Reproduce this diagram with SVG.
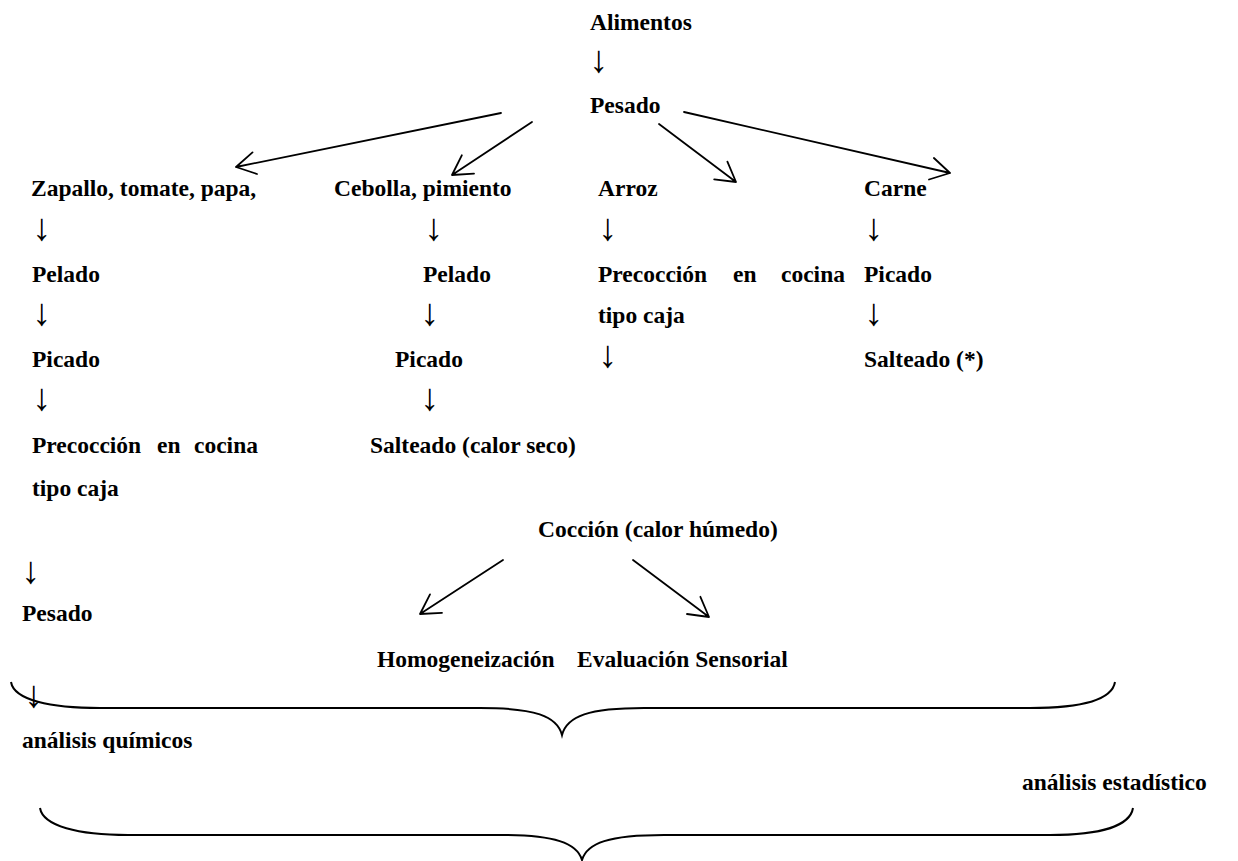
<svg xmlns="http://www.w3.org/2000/svg" width="1238" height="861" viewBox="0 0 1238 861">
<style>
text{font-family:"Liberation Serif","Times New Roman",serif;font-weight:bold;font-size:23.5px;fill:#000}
text.ar{font-family:"Liberation Sans",Arial,sans-serif;font-weight:bold;font-size:38px}
.c{fill:none;stroke:#000;stroke-width:1.8;stroke-linecap:round;stroke-linejoin:round}
.b{fill:none;stroke:#000;stroke-width:2}
</style>
<rect width="1238" height="861" fill="#fff"/>
<g id="n-alimentos"><text x="590" y="30">Alimentos</text></g>
<g id="a-top"><text class="ar" x="589" y="72">↓</text></g>
<g id="n-pesado"><text x="590" y="113">Pesado</text></g>

<g id="col1">
<text x="31" y="196">Zapallo, tomate, papa,</text>
<text class="ar" x="32" y="240">↓</text>
<text x="32" y="282">Pelado</text>
<text class="ar" x="32" y="325">↓</text>
<text x="32" y="367">Picado</text>
<text class="ar" x="32" y="410">↓</text>
<text y="453"><tspan x="32">Precocción</tspan><tspan x="157">en</tspan><tspan x="194">cocina</tspan></text>
<text x="32" y="496">tipo caja</text>
</g>
<g id="col2">
<text x="334" y="196">Cebolla, pimiento</text>
<text class="ar" x="424" y="240">↓</text>
<text x="423" y="282">Pelado</text>
<text class="ar" x="420" y="325">↓</text>
<text x="395" y="367">Picado</text>
<text class="ar" x="420" y="410">↓</text>
<text x="370" y="453">Salteado (calor seco)</text>
</g>
<g id="col3">
<text x="598" y="196">Arroz</text>
<text class="ar" x="598" y="240">↓</text>
<text y="282"><tspan x="598">Precocción</tspan><tspan x="733">en</tspan><tspan x="781">cocina</tspan></text>
<text x="598" y="323">tipo caja</text>
<text class="ar" x="598" y="367">↓</text>
</g>
<g id="col4">
<text x="864" y="196">Carne</text>
<text class="ar" x="864" y="240">↓</text>
<text x="864" y="282">Picado</text>
<text class="ar" x="864" y="325">↓</text>
<text x="864" y="367">Salteado (*)</text>
</g>
<g id="n-coccion"><text x="538" y="537">Cocción (calor húmedo)</text></g>
<g id="n-pesado2"><text class="ar" x="21" y="583">↓</text><text x="22" y="621">Pesado</text></g>
<g id="n-homog"><text x="377" y="667">Homogeneización</text></g>
<g id="n-eval"><text x="577" y="667">Evaluación Sensorial</text></g>
<g id="n-quim"><text class="ar" x="24" y="707">↓</text><text x="22" y="748">análisis químicos</text></g>
<g id="n-estad"><text x="1022" y="790">análisis estadístico</text></g>

<g id="connectors">
<path class="c" d="M501,113 L236,167 M252.5,152.4 L236,167 L257,174"/>
<path class="c" d="M532,122 L452,175 M461.8,155.3 L452,175 L474,173.6"/>
<path class="c" d="M659,124 L736,182 M727.4,161.7 L736,182 L714.2,179.3"/>
<path class="c" d="M684,112 L950,173 M933.9,158 L950,173 L929,179.5"/>
<path class="c" d="M503,560 L420,614 M430,594.4 L420,614 L442,612.8"/>
<path class="c" d="M633,560 L709,617 M700.4,596.8 L709,617 L687,614"/>
<path class="b" d="M11,682 C14,700 50,708 100,708 L480,708 C535,708 557,716 562,735 C567,716 589,708 644,708 L1030,708 C1080,708 1112,700 1115,682"/>
<path class="b" d="M40,808 C43,826 78,835 128,835 L500,835 C555,835 577,843 582,860 C587,843 609,835 664,835 L1050,835 C1100,835 1130,826 1133,808"/>
</g>
</svg>
